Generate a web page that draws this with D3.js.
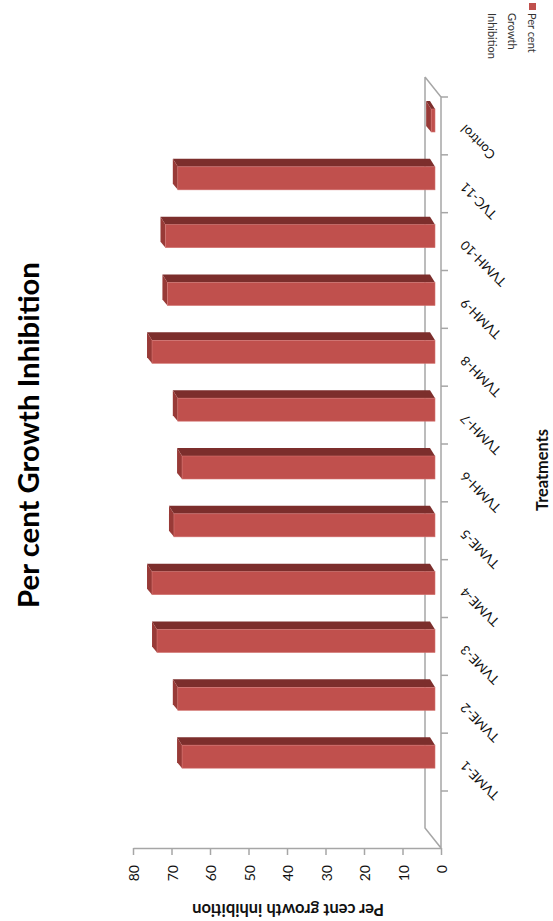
<!DOCTYPE html>
<html>
<head>
<meta charset="utf-8">
<script src="https://cdn.jsdelivr.net/npm/d3@7"></script>
<style>
  html, body { margin: 0; padding: 0; background: #ffffff; }
  svg { display: block; }
</style>
</head>
<body>
<script>
// ---- data ----
const categories = ["TVME-1","TVME-2","TVME-3","TVME-4","TVME-5","TVMH-6","TVMH-7","TVMH-8","TVMH-9","TVMH-10","TVC-11","Control"];
const inhibition = [65.7, 66.8, 72.2, 73.5, 67.8, 65.7, 66.8, 73.5, 69.5, 70.0, 66.8, 1.0];
const valueTicks = [0, 10, 20, 30, 40, 50, 60, 70, 80];
const chartTitle = "Per cent Growth Inhibition";
const valueTitle = "Per cent growth inhibition";
const categoryTitle = "Treatments";
const legendLines = ["Per cent", "Growth", "Inhibition"];

const W = 553, H = 921;
const svg = d3.select("body").append("svg").attr("width", W).attr("height", H);

const FONT = "Lato, 'Liberation Sans', sans-serif";
const frameColor = "#a6a6a6";
const frontColor = "#c0504d";
const topColor = "#7c2e2c";
const sideColor = "#983a37";

// scales (chart is drawn rotated: values run right->left, categories bottom->top)
const x = d3.scaleLinear().domain([0, 80]).range([441, 133]);
const y = d3.scaleBand().domain(categories.slice().reverse()).range([97, 791]).padding(0);

// depth geometry
const floorBackX = 425, floorFrontX = 441;
const floorTop = 77, floorBottom = 848;
const depthShift = 20;
const barShift = 6;   // bar front face sits a little behind the front axis line
const dxD = -5, dyD = -8; // 3D depth of each bar

// ---- floor / frame ----
const frame = svg.append("g").attr("fill", "none").attr("stroke", frameColor).attr("stroke-width", 1.5);
frame.append("path").attr("d", d3.line()([
  [floorBackX, floorTop], [floorFrontX, floorTop + depthShift],
  [floorFrontX, floorBottom], [floorBackX, floorBottom - depthShift], [floorBackX, floorTop]
]));

// value axis
const xAxis = d3.axisBottom(x).tickValues(valueTicks).tickSize(7).tickSizeOuter(0).tickFormat(d3.format("d"));
const gx = svg.append("g").attr("transform", `translate(0,${floorBottom})`).call(xAxis);
gx.select(".domain").attr("stroke", frameColor).attr("stroke-width", 1.5);
gx.selectAll(".tick line").attr("stroke", frameColor).attr("stroke-width", 1.5);
gx.selectAll(".tick text")
  .attr("font-family", FONT).attr("font-size", 14).attr("fill", "#111")
  .attr("text-anchor", "end").attr("dominant-baseline", "central")
  .attr("x", 0).attr("y", 0).attr("dy", null)
  .attr("transform", "translate(0,17) rotate(-90)");

// category axis ticks at band boundaries
const boundaries = categories.map(c => y(c)).concat([y.range()[1]]);
svg.append("g").selectAll("line").data(boundaries).join("line")
  .attr("x1", floorFrontX).attr("x2", floorFrontX + 7)
  .attr("y1", d => d).attr("y2", d => d)
  .attr("stroke", frameColor).attr("stroke-width", 1.5);

// category labels
svg.append("g").selectAll("text").data(categories).join("text")
  .attr("transform", d => `translate(466,${y(d) + y.bandwidth() / 2 - 2}) rotate(-135)`)
  .attr("text-anchor", "end")
  .attr("font-family", FONT).attr("font-size", 13).attr("fill", "#111")
  .text(d => d);

// ---- bars ----
const data = categories.map((c, i) => ({ c, v: inhibition[i] }));
const bars = svg.append("g");
const x0 = x(0) - barShift;
data.forEach(d => {
  const yt = y(d.c);
  const xl = x(d.v) - barShift;
  const fTop = yt + 12, fBot = yt + 35;
  const g = bars.append("g");
  // top (depth) face
  g.append("path").attr("fill", topColor).attr("d", d3.line()([
    [xl, fTop], [x0, fTop], [x0 + dxD, fTop + dyD], [xl + dxD, fTop + dyD]
  ]) + "Z");
  // left end face
  g.append("path").attr("fill", sideColor).attr("d", d3.line()([
    [xl, fTop], [xl + dxD, fTop + dyD], [xl + dxD, fBot - 6], [xl, fBot]
  ]) + "Z");
  // front face
  g.append("rect").attr("x", xl).attr("y", fTop)
    .attr("width", Math.max(0, x0 - xl)).attr("height", fBot - fTop)
    .attr("fill", frontColor).attr("stroke", "#d2726f").attr("stroke-width", 0.6);
});

// ---- titles ----
function fitText(sel, target) {
  const len = sel.node().getComputedTextLength();
  const fs = parseFloat(sel.attr("font-size"));
  sel.attr("font-size", fs * target / len);
}

const title = svg.append("text")
  .attr("transform", "translate(27,435) rotate(-90)")
  .attr("text-anchor", "middle").attr("dominant-baseline", "central")
  .attr("font-family", FONT).attr("font-weight", "bold").attr("font-size", 26).attr("fill", "#000")
  .text(chartTitle);
fitText(title, 346);

const vt = svg.append("text")
  .attr("transform", "translate(288,910) rotate(180)")
  .attr("text-anchor", "middle").attr("dominant-baseline", "central")
  .attr("font-family", FONT).attr("font-weight", "bold").attr("font-size", 13).attr("fill", "#111")
  .text(valueTitle);
fitText(vt, 192);

const ct = svg.append("text")
  .attr("transform", "translate(541,470) rotate(-90)")
  .attr("text-anchor", "middle").attr("dominant-baseline", "central")
  .attr("font-family", FONT).attr("font-weight", "bold").attr("font-size", 13).attr("fill", "#111")
  .text(categoryTitle);
fitText(ct, 82);

// ---- legend ----
const lg = svg.append("g");
lg.append("rect").attr("x", 529).attr("y", 3).attr("width", 7).attr("height", 7).attr("fill", frontColor);
lg.selectAll("text").data(legendLines).join("text")
  .attr("transform", (d, i) => `translate(${532 - i * 20},13) rotate(90)`)
  .attr("text-anchor", "start").attr("dominant-baseline", "central")
  .attr("font-family", FONT).attr("font-size", 11).attr("fill", "#333")
  .text(d => d);
</script>
</body>
</html>
